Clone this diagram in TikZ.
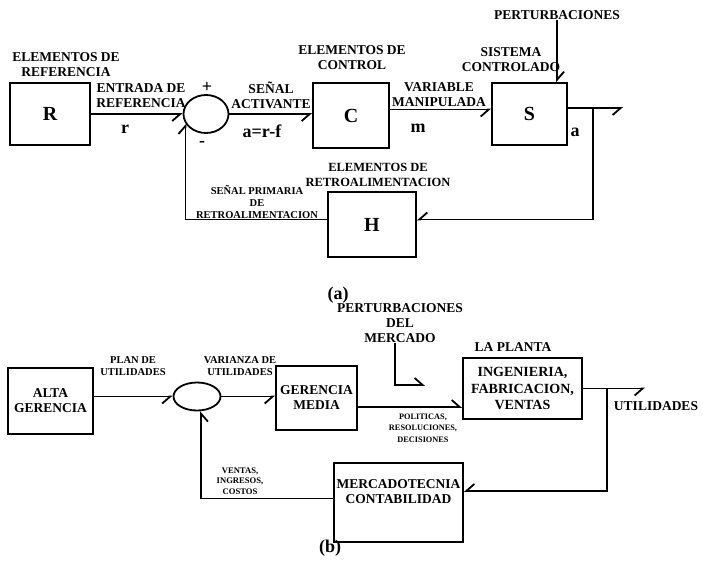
\documentclass[tikz,border=0pt]{standalone}
\usepackage{fontspec}
\setmainfont{Liberation Serif}
\usetikzlibrary{arrows.meta,shapes.geometric}

\newcommand{\fbig}{\fontsize{20}{22}\selectfont\bfseries}
\newcommand{\fmid}{\fontsize{13.5}{15}\selectfont\bfseries}
\newcommand{\fsml}{\fontsize{10.5}{11.8}\selectfont\bfseries}
\newcommand{\ftny}{\fontsize{8.3}{11.3}\selectfont\bfseries}

\begin{document}
\begin{tikzpicture}[x=1pt,y=-1pt,
  blk/.style={draw,line width=1.8pt,inner sep=0pt},
  sumnode/.style={draw,ellipse,line width=1.8pt,inner sep=0pt},
  lmid/.style={align=center,inner sep=0pt,font=\fmid},
  lsml/.style={align=center,inner sep=0pt,font=\fsml},
  ltny/.style={align=center,inner sep=0pt,font=\ftny},
  lsig/.style={inner sep=0pt,font=\fontsize{18}{20}\selectfont\bfseries},
  arr/.style={line width=1.8pt,-{Straight Barb[harpoon,swap,length=8pt,width=14pt]}},
  arrl/.style={line width=1.8pt,-{Straight Barb[harpoon,length=8pt,width=14pt]}}]

\useasboundingbox (0,0) rectangle (703,562);

% (a) Blocks
\node[blk,minimum width=80pt,minimum height=62pt] (R) at (50,114) {\fbig R};
\node[sumnode,minimum width=45pt,minimum height=38pt] (sum1) at (206,114) {};
\node[blk,minimum width=76pt,minimum height=65pt] (C) at (351,115.5) {\fbig C};
\node[blk,minimum width=75pt,minimum height=62pt] (S) at (529.5,114) {\fbig S};
\node[blk,minimum width=88pt,minimum height=65pt] (H) at (372,224.5) {\fbig H};

% (a) Signals
\coordinate (brA) at (593,108);
\coordinate (outA) at (623,108);
\draw[arr] (R) -- (sum1);
\draw[arr] (sum1.east) -- (sum1.east -| C.west);
\draw[arr] ([yshift=6pt]C.east) -- ([yshift=6pt]C.east -| S.west);
\draw[arr] ([yshift=6pt]S.east) -- (outA);
\draw[arr] (brA) |- ([yshift=5pt]H.east);
\draw[arrl] ([yshift=5pt]H.west) -| (sum1.205);

% (a) Labels
\node[lmid] (refL) at (66,65) {ELEMENTOS DE\\REFERENCIA};
\node[lmid] (entL) at (141,96) {ENTRADA DE\\REFERENCIA};
\node[lmid] (senL) at (271,95) {SEÑAL\\ACTIVANTE};
\node[lmid] (ctlL) at (352,58) {ELEMENTOS DE\\CONTROL};
\node[lmid] (varL) at (439,95) {VARIABLE\\MANIPULADA};
\node[lmid] (sisL) at (511,60) {SISTEMA\\CONTROLADO};
\node[lmid] (pertA) at (557,15) {PERTURBACIONES};
\node[lmid,font=\fontsize{12.5}{15}\selectfont\bfseries] (retL) at (378,175) {ELEMENTOS DE\\RETROALIMENTACION};
\node[lsml] (prmL) at (257,202) {SEÑAL PRIMARIA\\DE\\RETROALIMENTACION};
\draw[arrl] (pertA) -- (pertA |- S.north);

% Signal names
\foreach \nm/\x/\y/\t in {sr/125/129/r, sm/418/128/m, sa/575/132/a, saf/262/131/a=r-f}{
    \node[lsig] (\nm) at (\x,\y) {\t};
}
\node[lsig] (plus) at (207,87) {+};
\node[lsig] (minus) at (202,144) {-};
\node[lsig] (capA) at (338,295) {(a)};

% (b) Blocks
\node[blk,minimum width=85pt,minimum height=66pt,lmid,inner sep=0pt] (AG) at (50.5,401) {ALTA\\GERENCIA};
\node[sumnode,minimum width=47pt,minimum height=28pt] (sum2) at (197,396.5) {};
\node[blk,minimum width=81pt,minimum height=64pt,lmid,inner sep=0pt] (GM) at (316.5,398) {GERENCIA\\MEDIA};
\node[blk,minimum width=119pt,minimum height=61pt,align=center,inner sep=0pt,font=\fontsize{14}{16.5}\selectfont\bfseries] (PL) at (522.5,388.5) {INGENIERIA,\\FABRICACION,\\VENTAS};
\node[blk,minimum width=129pt,minimum height=79pt] (MC) at (398.5,502.5) {};
\node[lmid] (MCtxt) at (398.5,492) {MERCADOTECNIA\\CONTABILIDAD};

% (b) Signals
\coordinate (brB) at (607,388.5);
\coordinate (outB) at (645,388.5);
\coordinate (pB) at (425,385);
\draw[arr] (AG.east |- sum2.west) -- (sum2.west);
\draw[arr] (sum2.east) -- (sum2.east -| GM.west);
\draw[arrl] ([yshift=-9pt]GM.east) -- ([yshift=-9pt]GM.east -| PL.west);
\draw[arr] (PL.east) -- (outB);
\draw[arr] (brB) |- ([yshift=11.5pt]MC.east);
\draw[arr] ([yshift=4pt]MC.west) -| (sum2.285);

% (b) Labels
\node[lsml] (planL) at (133,366) {PLAN DE\\UTILIDADES};
\node[lsml] (varzL) at (240,366) {VARIANZA DE\\UTILIDADES};
\node[lmid] (pertB) at (400,323) {PERTURBACIONES\\DEL\\MERCADO};
\draw[arrl] ([xshift=-5pt]pertB.south) |- (pB);
\node[lmid] (lapL) at (513,347) {LA PLANTA};
\node[lmid] (utiL) at (656,406) {UTILIDADES};
\node[ltny] (polL) at (423,428) {POLITICAS,\\RESOLUCIONES,\\DECISIONES};
\node[ltny,font=\fontsize{8.6}{10.6}\selectfont\bfseries] (venL) at (240,481) {VENTAS,\\INGRESOS,\\COSTOS};
\node[lsig] (capB) at (330,548) {(b)};

\end{tikzpicture}
\end{document}
